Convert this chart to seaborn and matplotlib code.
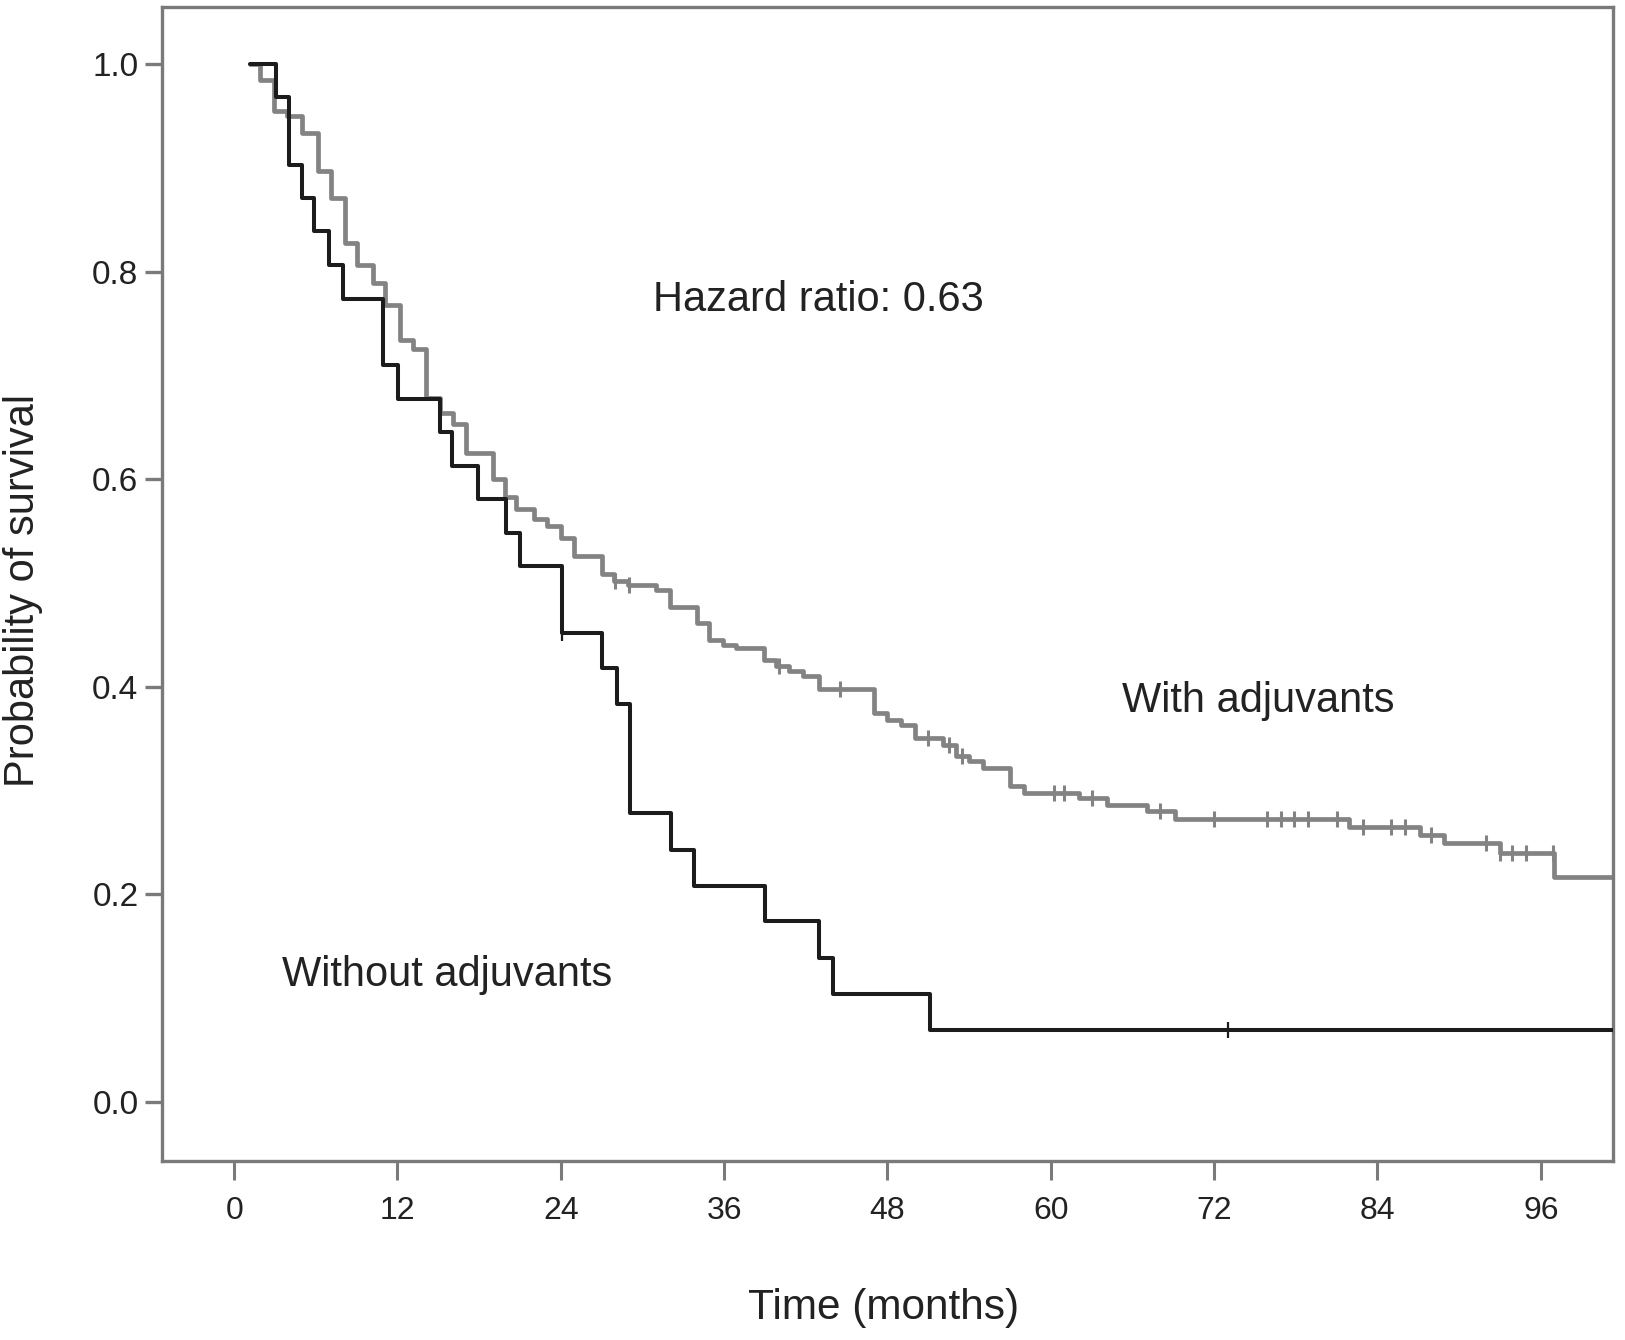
import numpy as np
import pandas as pd
import matplotlib
matplotlib.use("Agg")
import matplotlib.pyplot as plt
import seaborn as sns

# Kaplan-Meier steps (months, survival probability)
without_t = [1.15, 3.1, 4.0, 4.95, 5.9, 7.0, 8.0, 10.94, 12.05, 15.1, 15.97, 17.9,
             20.0, 21.0, 24.05, 27.0, 28.1, 29.1, 32.1, 33.8, 39.0, 43.0, 43.96,
             51.1, 101.3]
without_s = [1.0, 0.968, 0.903, 0.871, 0.839, 0.806, 0.774, 0.710, 0.677, 0.645,
             0.613, 0.581, 0.548, 0.516, 0.452, 0.418, 0.383, 0.278, 0.243, 0.208,
             0.174, 0.139, 0.104, 0.069, 0.069]
without_cens = [24.05, 73.0]

with_t = [1.15, 1.9, 2.9, 3.85, 5.0, 6.17, 7.15, 8.13, 9.0, 10.2, 11.07, 12.17,
          13.15, 14.13, 15.1, 16.1, 17.07, 19.0, 19.9, 20.7, 22.0, 23.0, 24.0,
          25.0, 27.0, 27.9, 28.9, 31.0, 32.0, 34.0, 34.9, 35.9, 36.9, 38.9, 39.8,
          40.8, 41.8, 43.0, 47.0, 48.0, 49.0, 50.0, 52.1, 53.0, 54.0, 55.0, 57.0,
          58.0, 62.1, 64.1, 67.1, 69.1, 81.9, 87.1, 88.9, 93.0, 97.0, 101.3]
with_s = [1.0, 0.985, 0.955, 0.950, 0.934, 0.897, 0.871, 0.828, 0.806, 0.789,
          0.768, 0.734, 0.725, 0.678, 0.664, 0.653, 0.625, 0.600, 0.583, 0.571,
          0.562, 0.555, 0.543, 0.526, 0.509, 0.502, 0.498, 0.493, 0.477, 0.461,
          0.445, 0.440, 0.437, 0.426, 0.420, 0.415, 0.410, 0.398, 0.375, 0.368,
          0.363, 0.351, 0.344, 0.333, 0.328, 0.322, 0.304, 0.298, 0.293, 0.286,
          0.280, 0.273, 0.265, 0.257, 0.249, 0.240, 0.217, 0.217]
with_cens = [28.0, 29.0, 40.0, 44.5, 51.0, 52.5, 53.5, 60.2, 61.0, 63.0, 68.0,
             72.0, 75.9, 76.9, 77.9, 78.9, 81.0, 82.9, 85.0, 86.0, 87.9, 92.0,
             93.0, 93.9, 94.9, 96.9]

x_ticks = [0, 12, 24, 36, 48, 60, 72, 84, 96]
y_ticks = [0.0, 0.2, 0.4, 0.6, 0.8, 1.0]

GRAY_LINE = "#838383"
DARK_LINE = "#1c1c1c"
FRAME = "#7a7a7a"
TEXT = "#222222"


def surv_at(times, surv, t):
    # value of the step function at time t
    idx = np.searchsorted(times, t, side="right") - 1
    return np.asarray(surv)[idx]


sns.set_style("white")
plt.rcParams["font.family"] = ["Liberation Sans", "DejaVu Sans"]

fig = plt.figure(figsize=(16.25, 13.4), dpi=100)
ax = fig.add_axes([0.0997, 0.1336, 0.8929, 0.8612])

df_with = pd.DataFrame({"t": with_t, "s": with_s})
df_without = pd.DataFrame({"t": without_t, "s": without_s})

sns.lineplot(data=df_with, x="t", y="s", drawstyle="steps-post", color=GRAY_LINE,
             linewidth=3.4, estimator=None, sort=False, ax=ax, zorder=2)
sns.lineplot(data=df_without, x="t", y="s", drawstyle="steps-post", color=DARK_LINE,
             linewidth=2.9, estimator=None, sort=False, ax=ax, zorder=3)

cw = pd.DataFrame({"t": with_cens, "s": surv_at(with_t, with_s, with_cens)})
cwo = pd.DataFrame({"t": without_cens, "s": surv_at(without_t, without_s, without_cens)})
sns.scatterplot(data=cw, x="t", y="s", marker="|", s=120, color=GRAY_LINE,
                linewidth=2.2, ax=ax, zorder=2)
sns.scatterplot(data=cwo, x="t", y="s", marker="|", s=120, color=DARK_LINE,
                linewidth=1.6, ax=ax, zorder=3)

ax.text(30.8, 0.773, "Hazard ratio: 0.63", fontsize=30, color=TEXT, va="center")
ax.text(65.2, 0.386, "With adjuvants", fontsize=30, color=TEXT, va="center")
ax.text(3.5, 0.122, "Without adjuvants", fontsize=30, color=TEXT, va="center")

ax.set_xlim(-5.3, 101.3)
ax.set_ylim(-0.057, 1.055)
ax.set_xticks(x_ticks)
ax.set_yticks(y_ticks)
ax.set_xticklabels([str(v) for v in x_ticks])
ax.set_yticklabels([f"{v:.1f}" for v in y_ticks])

for sp in ax.spines.values():
    sp.set_visible(True)
    sp.set_color(FRAME)
    sp.set_linewidth(2.4)

ax.tick_params(axis="x", direction="out", length=14, width=2.2, color=FRAME,
               labelsize=23, labelcolor=TEXT, pad=11, bottom=True)
ax.tick_params(axis="y", direction="out", length=12, width=2.4, color=FRAME,
               labelsize=24, labelcolor=TEXT, pad=5, left=True)

ax.set_xlabel("")
ax.set_ylabel("")
fig.text(0.544, 0.024, "Time (months)", fontsize=30.5, color=TEXT, ha="center", va="center")
fig.text(0.014, 0.559, "Probability of survival", fontsize=30, color=TEXT,
         ha="center", va="center", rotation=90)

fig.savefig("out.png", dpi=100, facecolor="white")
plt.close(fig)
